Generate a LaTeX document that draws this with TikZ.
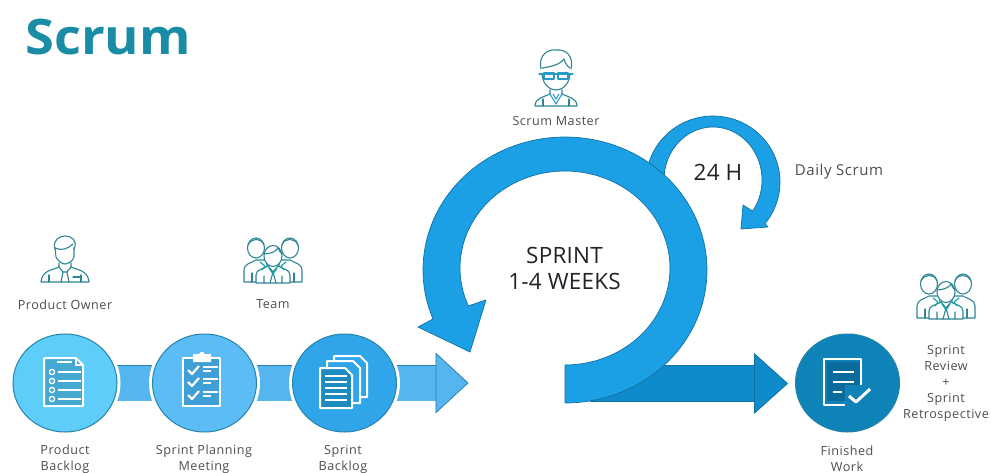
\documentclass[tikz,border=0pt]{standalone}
\usepackage{fontspec}
\setmainfont{Open Sans}
\newfontfamily\lblfont[LetterSpace=4]{Open Sans}
\newfontfamily\bigfont[LetterSpace=1]{Open Sans}
\usetikzlibrary{shapes.geometric,arrows.meta}
\definecolor{txt}{HTML}{4A4F52}
\definecolor{ink}{HTML}{202428}
\definecolor{titlec}{HTML}{1A8CA6}
\definecolor{iconc}{HTML}{2E8594}
\definecolor{mainblue}{HTML}{1BA0E6}
\definecolor{mainedge}{HTML}{12709F}
\definecolor{darkarrow}{HTML}{0F8BCB}
\definecolor{connfill}{HTML}{55B5EE}
\definecolor{connedge}{HTML}{2A80B0}
\definecolor{cA}{HTML}{5FCDFA}
\definecolor{cB}{HTML}{5CBDF6}
\definecolor{cC}{HTML}{31A5EA}
\definecolor{cD}{HTML}{0F82B8}
\definecolor{circedge}{HTML}{2585A8}
\definecolor{ipA}{HTML}{45A8D0}
\definecolor{ipB}{HTML}{3F9FD6}
\definecolor{ipC}{HTML}{1F8CC0}
\definecolor{ipD}{HTML}{0B6B9C}
\tikzset{
  x=1pt,y=-1pt,
  stagecircle/.style={ellipse,minimum width=104pt,minimum height=98pt,inner sep=0pt,outer sep=0pt,
    draw=circedge,line width=1pt,preaction={draw=white,line width=7pt}},
  small/.style={text=txt,align=center,font=\lblfont\fontsize{12.6}{16}\selectfont,inner sep=0pt},
  big/.style={text=ink,align=center,font=\bigfont\fontsize{22.5}{26}\selectfont,inner sep=0pt},
  connback/.style={draw=connedge,line width=36.5pt},
  connfront/.style={draw=connfill,line width=35pt},
  wline/.style={draw=white,line width=2pt},
  wthin/.style={draw=white,line width=1.3pt},
  iconline/.style={draw=iconc,line width=1.1pt,line join=round,line cap=round},
}
\newcommand{\teamicon}[2]{%
  \begin{scope}[shift={(#1,#2)},iconline]
    \foreach \s in {-1,1}{
      \draw[fill=white] (\s*17,-11) ellipse (8.5 and 10);
      \draw (\s*25,-14) .. controls (\s*22,-21) and (\s*12,-22) .. (\s*9,-14);
      \draw[fill=white] (\s*29,23) -- (\s*29,11) .. controls (\s*29,5) and (\s*22,4) .. (\s*17,1)
         -- (\s*6,1) -- (\s*6,23) -- cycle;
      \draw (\s*21,23) -- (\s*21,14);
    }
    \draw[fill=white] (0,-3) ellipse (9 and 10.5);
    \draw (-9,-5) .. controls (-4,-5) and (3,-7) .. (5,-11) .. controls (6,-8) and (8,-6) .. (9,-5);
    \draw[fill=white] (-17,24) -- (-17,16) .. controls (-17,10) and (-9,10) .. (-5,7)
       -- (0,13) -- (5,7) .. controls (9,10) and (17,10) .. (17,16) -- (17,24) -- cycle;
    \draw (-9,24) -- (-9,17) (9,24) -- (9,17) (0,13) -- (-3,24) (0,13) -- (3,24);
    \draw[draw=teal!70!cyan] (-13,3) -- (-8,7) -- (-11,11) (13,3) -- (8,7) -- (11,11) (-4,9) -- (0,15) -- (4,9);
  \end{scope}}
\begin{document}
\begin{tikzpicture}
\useasboundingbox (0,0) rectangle (991,473);
\fill[white] (0,0) rectangle (991,473);

% title
\node[anchor=base west,inner sep=0pt,text=titlec,font=\fontsize{49}{49}\selectfont\bfseries] (title) at (25,55) {\scalebox{1.07}[1]{Scrum}};

\coordinate (tipA) at (468.5,383);
\coordinate (neckA) at (436,383);
\coordinate (tailB) at (590,383.5);
\coordinate (tipB) at (788,383.5);
\coordinate (neckB) at (755,383.5);

\node[stagecircle,fill=cA] (pb) at (65,383) {};
\node[stagecircle,fill=cB] (spm) at (204.5,383) {};
\node[stagecircle,fill=cC] (sb) at (344.5,383) {};
\node[stagecircle,fill=cD] (fw) at (847.5,383) {};

% connectors, drawn behind a repeat of the circles
\draw[connback] (pb.center) -- (spm.center);
\draw[connfront] (pb.center) -- (spm.center);
\draw[connback] (spm.center) -- (sb.center);
\draw[connfront] (spm.center) -- (sb.center);
\draw[connback] (sb.center) -- (neckA);
\draw[connfront,-{Triangle[length=33pt,width=61pt,fill=connfill,color=connedge,line width=.8pt]}] (sb.center) -- (tipA);
\draw[draw=mainedge,line width=37pt] (tailB) -- (neckB);
\draw[draw=darkarrow,line width=35.6pt,-{Triangle[length=34pt,width=61pt,fill=darkarrow,color=mainedge,line width=.8pt]}] (tailB) -- (tipB);

\node[stagecircle,fill=cA] at (pb.center) {};
\node[stagecircle,fill=cB] at (spm.center) {};
\node[stagecircle,fill=cC] at (sb.center) {};
\node[stagecircle,fill=cD] at (fw.center) {};

% daily arc
\filldraw[fill=mainblue,draw=mainedge,line width=.7pt,line join=round]
  plot[domain=-165:39,samples=60,variable=\t] ({713+67*cos(\t)},{182+66*sin(\t)})
  -- (768,227) -- (741,229) -- (743,205)
  -- plot[domain=36:-175,samples=60,variable=\t] ({713+49*cos(\t)},{180+53*sin(\t)}) -- cycle;

% sprint arc
\filldraw[fill=mainblue,draw=mainedge,line width=.7pt,line join=round]
  plot[domain=90:-201.6,samples=120,variable=\t] ({565+142*cos(\t)},{270+133*sin(\t)})
  -- (418,327) -- (470,352) -- (486,300)
  -- plot[domain=-203:90,samples=120,variable=\t] ({565+105*cos(\t)},{268+97*sin(\t)}) -- cycle;

% Product Backlog icon
\draw[wline,fill=ipA,line join=round] (44,358) -- (76,358) -- (83,365) -- (83,406) -- (44,406) -- cycle;
\draw[wthin] (76,358) -- (76,365) -- (83,365) (57,362) -- (72,362);
\foreach \yy in {372,381,390,399}{
  \draw[wthin,fill=ipA] (52,\yy) circle (2.6);
  \draw[wline] (58,\yy) -- (81,\yy);
}

% Sprint Planning icon
\draw[wline,fill=ipB,line join=round] (183,358) -- (220,358) -- (220,406) -- (183,406) -- cycle;
\draw[wline,fill=white] (194,358) -- (194,355) -- (200,355) .. controls (201,352) and (203,352) .. (204,355) -- (210,355) -- (210,361) -- (194,361) -- cycle;
\foreach \yy in {370,382,395}{
  \draw[draw=white,line width=2.2pt,line join=round] (188,\yy) -- (192,\yy+4) -- (199,\yy-4);
  \draw[wthin] (203,\yy-3) -- (218,\yy-3);
  \draw[wthin] (203,\yy+1) -- (211,\yy+1);
}

% Sprint Backlog icon
\draw[wline,fill=cC,line join=round] (334,356) -- (360,356) -- (367,363) -- (367,397) -- (334,397) -- cycle;
\draw[wline,fill=cC,line join=round] (327,361) -- (353,361) -- (360,368) -- (360,403) -- (327,403) -- cycle;
\draw[wline,fill=ipC,line join=round] (320,368) -- (345,368) -- (352,375) -- (352,408) -- (320,408) -- cycle;
\foreach \yy in {375,381,387,393,399}{
  \draw[wthin] (325,\yy+1) -- (347,\yy+1);
}

% Finished Work icon
\fill[ipD] (827,362) rectangle (861,401);
\draw[draw=white,line width=2.4pt,line join=round] (861,385) -- (861,359) -- (824,359) -- (824,405) -- (845,405);
\draw[draw=white,line width=2.8pt] (833,372) -- (854,372) (833,382) -- (854,382) (833,392) -- (842,392);
\draw[fill=cD,draw=none] (845,385) rectangle (872,405);
\draw[draw=white,line width=3pt,line join=round] (849,396) -- (856,402) -- (870,389);

% Scrum Master icon
\begin{scope}[shift={(556,80)},iconline]
  \draw (-15,-11) .. controls (-18,-26) and (-7,-31) .. (0,-30) .. controls (10,-31) and (18,-24) .. (15,-11);
  \draw (-14,-12) .. controls (-7,-13) and (4,-15) .. (8,-21) .. controls (9,-17) and (12,-13) .. (14,-12);
  \draw (-14,-6) .. controls (-13,6) and (-5,10) .. (0,10) .. controls (5,10) and (13,6) .. (14,-6);
  \draw (-6,10) -- (-6,14) .. controls (-12,17) and (-21,18) .. (-21,26) -- (21,26) .. controls (21,18) and (12,17) .. (6,14) -- (6,10);
  \draw (-13,26) -- (-13,19) (13,26) -- (13,19);
  \draw[draw=cyan!60!teal] (-17,-6) -- (17,-6) (-12,-7) rectangle (-2,-1) (2,-7) rectangle (12,-1);
  \draw[draw=cyan!60!teal] (-6,14) -- (0,24) -- (6,14) (-3,14) -- (0,19) -- (3,14);
\end{scope}

% Product Owner icon
\begin{scope}[shift={(65,258)},iconline]
  \draw (-10,-9) .. controls (-13,-18) and (-5,-22) .. (0,-22) .. controls (7,-22) and (13,-17) .. (9,-9);
  \draw (-10,-10) .. controls (-4,-7) and (3,-9) .. (8,-14);
  \draw (-10,-10) -- (-9,-1) .. controls (-7,3) and (-3,6) .. (0,6) .. controls (3,6) and (8,3) .. (9,-1) -- (9,-10);
  \draw (-6,5) -- (-6,9) .. controls (-12,12) and (-23,12) .. (-24,24) -- (24,24) .. controls (23,12) and (12,12) .. (6,9) -- (6,5);
  \draw (-6,9) -- (-2,14) -- (2,14) -- (6,9) (-2,14) -- (-4,24) (2,14) -- (4,24);
  \draw (-16,24) -- (-16,17) (16,24) -- (16,17) (8,19) -- (16,19);
\end{scope}

\teamicon{273}{259}
\teamicon{946}{295}

% labels
\node[small] (lpo) at (65,304.5) {Product Owner};
\node[small] (lteam) at (273,304.5) {Team};
\node[small] (lsm) at (556,121) {Scrum Master};
\node[small] (lpb) at (65,459) {Product\\Backlog};
\node[small] (lspm) at (204,459) {Sprint Planning\\Meeting};
\node[small] (lsb) at (343,459) {Sprint\\Backlog};
\node[small] (lfw) at (847,459) {Finished\\Work};
\node[small] (lrev) at (946,383) {Sprint\\Review\\+\\Sprint\\Retrospective};
\node[text=txt,font=\lblfont\fontsize{15}{18}\selectfont,inner sep=0pt] (lds) at (839,171.5) {Daily Scrum};
\node[big] (l24) at (718,172) {24 H};
\node[big] (lsprint) at (564.5,268) {SPRINT\\1-4 WEEKS};
\end{tikzpicture}
\end{document}
